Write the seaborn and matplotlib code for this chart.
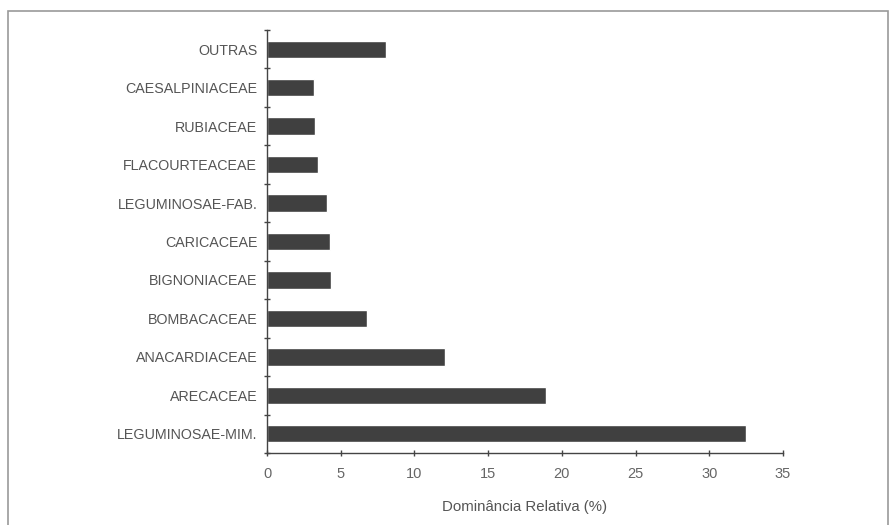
import numpy as np
import pandas as pd
import seaborn as sns
import matplotlib.pyplot as plt
from matplotlib.patches import Rectangle
from matplotlib.ticker import FixedLocator

# dados (de cima para baixo)
familias = ['OUTRAS', 'CAESALPINIACEAE', 'RUBIACEAE', 'FLACOURTEACEAE',
            'LEGUMINOSAE-FAB.', 'CARICACEAE', 'BIGNONIACEAE', 'BOMBACACEAE',
            'ANACARDIACEAE', 'ARECACEAE', 'LEGUMINOSAE-MIM.']
dominancia = [8.1, 3.2, 3.25, 3.45, 4.1, 4.3, 4.35, 6.8, 12.1, 18.9, 32.5]
xticks = [0, 5, 10, 15, 20, 25, 30, 35]

sns.set_style('white')
plt.rcParams['font.family'] = ['Liberation Sans', 'DejaVu Sans']

df = pd.DataFrame({'Familia': familias, 'Dominancia': dominancia})

fig = plt.figure(figsize=(8.96, 5.25), dpi=100)
ax = fig.add_axes([267 / 896, 1 - 453 / 525, (783 - 267) / 896, (453 - 30) / 525])

sns.barplot(data=df, x='Dominancia', y='Familia', order=familias,
            color='#404040', saturation=1, width=0.45, ax=ax)

ax.set_xlim(0, 35)
ax.set_ylim(10.5, -0.5)
ax.set_xticks(xticks)
ax.set_xticklabels([str(t) for t in xticks], fontsize=10.5, color='#666666')

# ticks do eixo y nos limites entre as categorias
ax.yaxis.set_major_locator(FixedLocator(np.arange(len(familias))))
ax.yaxis.set_minor_locator(FixedLocator(np.arange(-0.5, len(familias), 1.0)))
ax.set_yticklabels(familias, fontsize=10.3, color='#555555')
ax.tick_params(axis='y', which='major', length=0, pad=7)
ax.tick_params(axis='y', which='minor', length=4, width=1, direction='inout',
               color='#444444', left=True)
ax.tick_params(axis='x', which='major', length=4, width=1, direction='inout',
               color='#444444', bottom=True, pad=8)

ax.set_ylabel('')
ax.set_xlabel('Dominância Relativa (%)', fontsize=10.8, color='#555555', labelpad=14)

sns.despine(ax=ax, top=True, right=True)
for side in ['left', 'bottom']:
    ax.spines[side].set_color('#444444')
    ax.spines[side].set_linewidth(1.0)

# moldura da figura
fig.patches.append(Rectangle((8 / 896, -0.05), (888 - 8) / 896, 1.05 - 11 / 525,
                             transform=fig.transFigure, fill=False,
                             edgecolor='#9a9a9a', linewidth=1.2))

fig.savefig('out.png', dpi=100)
